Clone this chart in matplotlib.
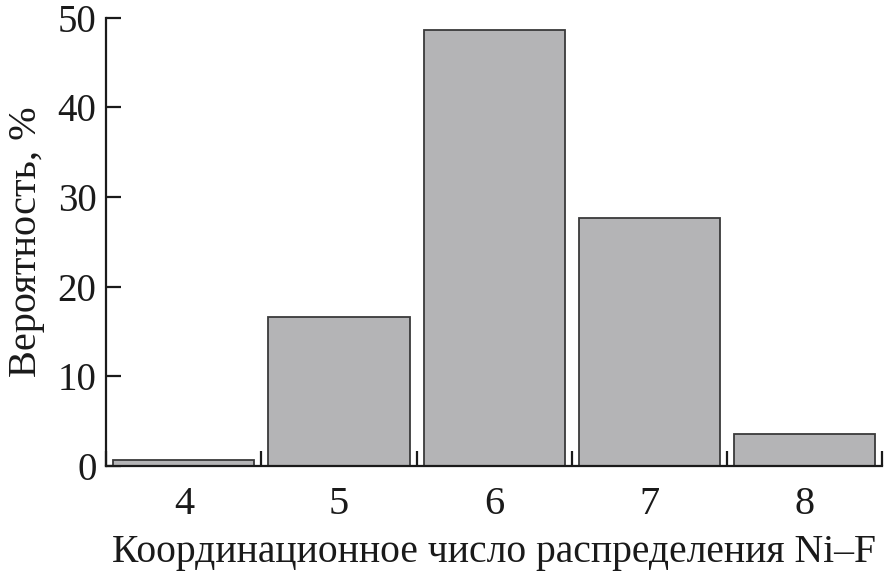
import matplotlib
matplotlib.use("Agg")
import matplotlib.pyplot as plt
import numpy as np

categories = [4, 5, 6, 7, 8]
values = [0.7, 16.6, 48.6, 27.7, 3.6]
yticks = [0, 10, 20, 30, 40, 50]

plt.rcParams['font.family'] = ['Liberation Serif', 'DejaVu Serif']

fig = plt.figure(figsize=(8.85, 5.74), dpi=100)
ax = fig.add_axes([0.12, 0.188, 0.877, 0.781])

ax.bar(categories, values, width=0.91, color='#b4b4b6', edgecolor='#3a3a3a', linewidth=1.3, zorder=2)

ax.set_xlim(3.5, 8.5)
ax.set_ylim(0, 50)
ax.set_yticks(yticks)
ax.set_xticks(categories)
ax.set_xticklabels([str(c) for c in categories])
ax.set_xticks(np.arange(3.5, 8.6, 1.0), minor=True)

for s in ['top', 'right']:
    ax.spines[s].set_visible(False)
for s in ['left', 'bottom']:
    ax.spines[s].set_linewidth(1.6)
    ax.spines[s].set_color('#1a1a1a')

ax.tick_params(axis='y', direction='in', length=11, width=1.6, labelsize=28, pad=7, colors='#1a1a1a')
ax.tick_params(axis='x', which='major', length=0, labelsize=29, pad=14, colors='#1a1a1a')
ax.tick_params(axis='x', which='minor', direction='in', length=11, width=1.6, colors='#1a1a1a')

ax.set_ylabel('Вероятность, %', fontsize=29, color='#1a1a1a', labelpad=9)
ax.set_xlabel('Координационное число распределения Ni\u2013F', fontsize=28.5, color='#1a1a1a', labelpad=8)

fig.savefig('out.png', dpi=100)
